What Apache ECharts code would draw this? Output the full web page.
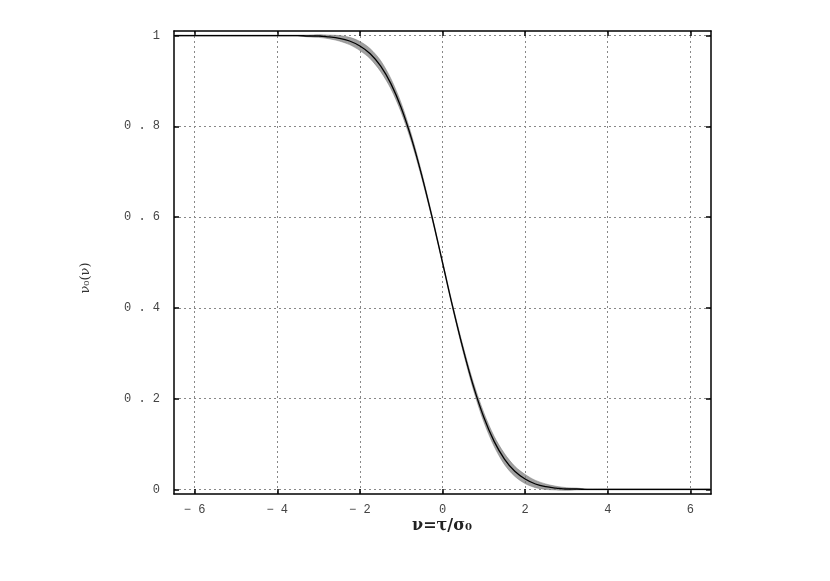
<!DOCTYPE html>
<html>
<head>
<meta charset="utf-8">
<script src="https://cdn.jsdelivr.net/npm/echarts@6/dist/echarts.min.js"></script>
<style>html,body{margin:0;padding:0;background:#fff;}#c{width:830px;height:581px;}</style>
</head>
<body>
<div id="c"></div>
<script>
var xValues = [-6.5,-6.25,-6,-5.75,-5.5,-5.25,-5,-4.75,-4.5,-4.25,-4,-3.75,-3.5,-3.25,-3,-2.75,-2.5,-2.25,-2,-1.75,-1.5,-1.25,-1,-0.75,-0.5,-0.25,0,0.25,0.5,0.75,1,1.25,1.5,1.75,2,2.25,2.5,2.75,3,3.25,3.5,3.75,4,4.25,4.5,4.75,5,5.25,5.5,5.75,6,6.25,6.5];
var curveValues = [1,1,1,1,1,1,1,1,1,1,1,1,1,0.999,0.999,0.997,0.994,0.988,0.977,0.960,0.933,0.894,0.841,0.773,0.691,0.599,0.500,0.401,0.309,0.227,0.159,0.106,0.067,0.040,0.023,0.012,0.006,0.003,0.001,0.001,0,0,0,0,0,0,0,0,0,0,0,0,0];
var bandLower = [0.999,0.999,0.999,0.999,0.999,0.999,0.999,0.999,0.999,0.999,0.999,0.999,0.999,0.997,0.996,0.993,0.988,0.980,0.967,0.949,0.921,0.883,0.831,0.765,0.685,0.595,0.497,0.397,0.303,0.219,0.149,0.095,0.055,0.029,0.013,0.004,0.000,-0.001,-0.002,-0.001,-0.001,-0.001,-0.001,-0.001,-0.001,-0.001,-0.001,-0.001,-0.001,-0.001,-0.001,-0.001,-0.001];
var bandUpper = [1.001,1.001,1.001,1.001,1.001,1.001,1.001,1.001,1.001,1.001,1.001,1.001,1.001,1.001,1.002,1.001,1.000,0.996,0.987,0.971,0.945,0.905,0.851,0.781,0.697,0.603,0.503,0.405,0.315,0.235,0.169,0.117,0.079,0.051,0.033,0.020,0.012,0.007,0.004,0.003,0.001,0.001,0.001,0.001,0.001,0.001,0.001,0.001,0.001,0.001,0.001,0.001,0.001];
var xTicks = [-6,-4,-2,0,2,4,6];
var yTicks = [0,0.2,0.4,0.6,0.8,1];
var xTitle = 'ν=τ/σ₀';
var yTitle = 'ν₀(ν)';

var chart = echarts.init(document.getElementById('c'), null, {renderer:'canvas'});
function pairs(ys){ return xValues.map(function(x,i){ return [x, ys[i]]; }); }
var labelFont = {fontFamily:'Liberation Mono', fontSize:12, color:'#444'};
function fmtX(v){ var s = Math.abs(v).toString(); return v < 0 ? '− ' + s : s; }
function fmtY(v){ if (v === 0) return '0'; if (v === 1) return '1'; return v.toFixed(1).split('').join(' '); }
var axisLine = {show:true, onZero:false, lineStyle:{color:'#000', width:1.5}};
var tick = function(vals){ return {show:true, inside:true, length:5, lineStyle:{color:'#000', width:1.5}, customValues: vals}; };
var split = {show:true, lineStyle:{color:'#888', type:[2,3], width:1}};
var bandData = xValues.map(function(x,i){ return [x, bandLower[i], bandUpper[i]]; });
var option = {
  animation:false,
  backgroundColor:'#fff',
  grid:{left:174, right:119, top:31, bottom:87, containLabel:false, show:false},
  xAxis:[
    {type:'value', min:-6.5, max:6.5, position:'bottom', axisLine:axisLine, axisTick:tick(xTicks),
     axisLabel:Object.assign({show:true, margin:10, customValues:xTicks, formatter:fmtX}, labelFont), splitLine:split},
    {type:'value', min:-6.5, max:6.5, position:'top', axisLine:axisLine, axisTick:tick(xTicks),
     axisLabel:{show:false}, splitLine:{show:false}}
  ],
  yAxis:[
    {type:'value', min:-0.01, max:1.01, position:'left', axisLine:axisLine, axisTick:tick(yTicks),
     axisLabel:Object.assign({show:true, margin:14, customValues:yTicks, formatter:fmtY}, labelFont), splitLine:split},
    {type:'value', min:-0.01, max:1.01, position:'right', axisLine:axisLine, axisTick:tick(yTicks),
     axisLabel:{show:false}, splitLine:{show:false}}
  ],
  series:[
    {type:'custom', name:'band', data:bandData, silent:true, clip:true,
     encode:{x:0, y:[1,2]},
     renderItem:function(params, api){
       if (params.dataIndex !== 0) return null;
       var up = [], lo = [];
       for (var i = 0; i < bandData.length; i++) {
         up.push(api.coord([bandData[i][0], bandData[i][2]]));
         lo.push(api.coord([bandData[i][0], bandData[i][1]]));
       }
       var pts = up.concat(lo.reverse());
       return {type:'polygon', shape:{points:pts, smooth:0.3}, style:{fill:'rgba(120,120,120,0.7)', stroke:'rgba(120,120,120,0.5)', lineWidth:1}};
     }},
    {type:'line', name:'curve', data:pairs(curveValues), symbol:'none', smooth:0.4,
     lineStyle:{color:'#000', width:1.3}, z:5}
  ],
  graphic:[
    {type:'text', x:442, y:526, style:{text:xTitle, font:'bold 16px "DejaVu Serif"', fill:'#222', align:'center', verticalAlign:'middle'}},
    {type:'text', x:86, y:278, rotation:Math.PI/2, style:{text:yTitle, font:'13px "DejaVu Serif"', fill:'#333', align:'center', verticalAlign:'middle'}}
  ]
};
chart.setOption(option);
</script>
</body>
</html>
